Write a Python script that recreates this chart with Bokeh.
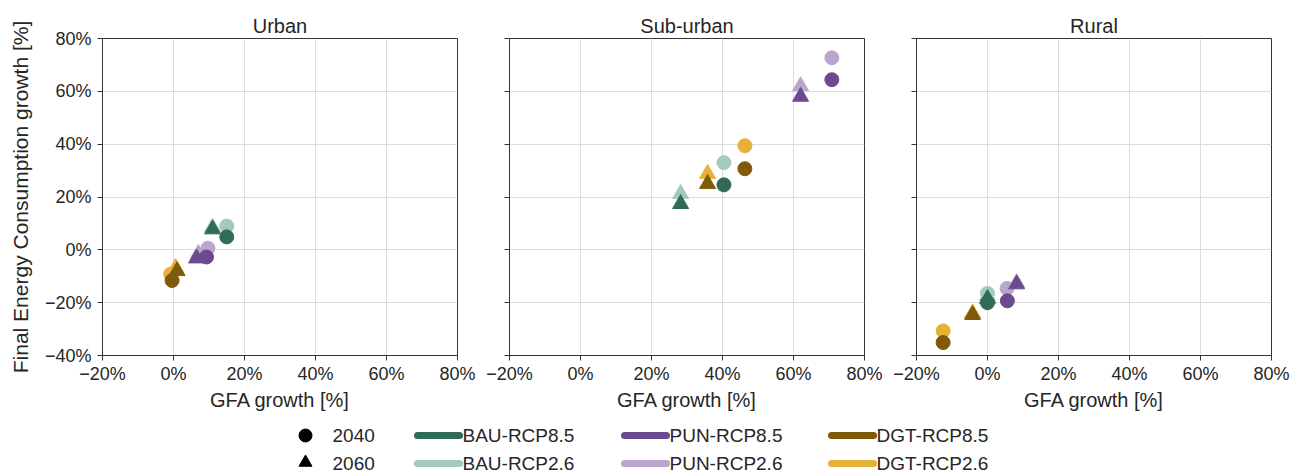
from bokeh.plotting import figure
from bokeh.layouts import column, row
from bokeh.models import (ColumnDataSource, Range1d, FixedTicker,
                          CustomJSTickFormatter)
from bokeh.core.properties import value
from bokeh.embed import file_html
from bokeh.resources import INLINE

# ---------------------------------------------------------------- data
panels = ["Urban", "Sub-urban", "Rural"]
scenarios = ["BAU-RCP8.5", "BAU-RCP2.6", "PUN-RCP8.5",
             "PUN-RCP2.6", "DGT-RCP8.5", "DGT-RCP2.6"]
scenario_colors = ["#2f6b56", "#a4cabb", "#6b4a8d",
                   "#b9a6cf", "#7f5a08", "#e6b139"]
years = ["2040", "2060"]

# GFA growth [%] and final energy consumption growth [%], one value per scenario
urban_gfa_2040 = [15.0, 15.0, 9.3, 9.7, -0.4, -0.8]
urban_fec_2040 = [4.9, 9.0, -2.7, 0.6, -11.6, -9.2]
urban_gfa_2060 = [11.0, 11.0, 6.5, 7.0, 1.0, 0.6]
urban_fec_2060 = [7.8, 8.5, -3.2, -1.5, -8.0, -6.8]

suburban_gfa_2040 = [40.4, 40.4, 70.8, 70.8, 46.3, 46.3]
suburban_fec_2040 = [24.6, 33.0, 64.4, 72.7, 30.7, 39.4]
suburban_gfa_2060 = [28.2, 28.2, 62.0, 62.0, 35.8, 35.8]
suburban_fec_2060 = [17.4, 21.2, 58.0, 62.0, 25.0, 28.8]

rural_gfa_2040 = [0.0, 0.0, 5.6, 5.5, -12.5, -12.5]
rural_fec_2040 = [-20.0, -16.5, -19.3, -14.6, -35.1, -30.7]
rural_gfa_2060 = [0.0, 0.0, 8.2, 8.2, -4.2, -4.2]
rural_fec_2060 = [-18.5, -17.5, -13.0, -12.5, -24.6, -24.0]

x_ticks = [-20, 0, 20, 40, 60, 80]
y_ticks = [-40, -20, 0, 20, 40, 60, 80]

panel_data = {
    "Urban": (urban_gfa_2040, urban_fec_2040, urban_gfa_2060, urban_fec_2060),
    "Sub-urban": (suburban_gfa_2040, suburban_fec_2040,
                  suburban_gfa_2060, suburban_fec_2060),
    "Rural": (rural_gfa_2040, rural_fec_2040, rural_gfa_2060, rural_fec_2060),
}

# ---------------------------------------------------------------- style
FONT = "Liberation Sans"
TEXT = "#262626"
GRID = "#dcdcdc"
SPINE = "#333333"

pct = CustomJSTickFormatter(
    code="return (tick < 0 ? '\\u2212' + (-tick) : '' + tick) + '%';")
blank = CustomJSTickFormatter(code="return '';")

FRAME_W, FRAME_H = 355, 317
TOP, BOTTOM = 38, 62
borders = [(102, 26), (26, 26), (26, 27)]


def make_panel(i, name):
    left, right = borders[i]
    p = figure(width=left + FRAME_W + right, height=TOP + FRAME_H + BOTTOM,
               min_border_left=left, min_border_right=right,
               min_border_top=TOP, min_border_bottom=BOTTOM,
               x_range=Range1d(-20, 80), y_range=Range1d(-40, 80),
               output_backend="svg", toolbar_location=None, title=name)
    p.title.align = "center"
    p.title.text_font = FONT
    p.title.text_font_size = "20px"
    p.title.text_font_style = "normal"
    p.title.text_color = TEXT
    p.title.standoff = 3

    p.outline_line_color = SPINE
    p.outline_line_width = 1
    p.background_fill_color = "white"
    p.border_fill_color = "white"

    for ax in (p.xaxis[0], p.yaxis[0]):
        ax.axis_line_color = SPINE
        ax.major_tick_line_color = SPINE
        ax.major_tick_out = 5
        ax.major_tick_in = 0
        ax.minor_tick_line_color = None
        ax.major_label_text_font = FONT
        ax.major_label_text_font_size = "18px"
        ax.major_label_text_color = TEXT
        ax.axis_label_text_font = FONT
        ax.axis_label_text_font_size = "20px"
        ax.axis_label_text_font_style = "normal"
        ax.axis_label_text_color = TEXT

    p.xaxis.ticker = FixedTicker(ticks=x_ticks)
    p.yaxis.ticker = FixedTicker(ticks=y_ticks)
    p.xaxis.formatter = pct
    p.xaxis.major_label_standoff = 3
    p.xaxis.axis_label = "GFA growth [%]"
    p.xaxis.axis_label_standoff = 2
    if i == 0:
        p.yaxis.formatter = pct
        p.yaxis.major_label_standoff = 6
        p.yaxis.axis_label = "Final Energy Consumption growth [%]"
        p.yaxis.axis_label_text_font_size = "21px"
        p.yaxis.axis_label_standoff = 10
    else:
        p.yaxis.formatter = blank
        p.yaxis.major_label_standoff = 0

    p.grid.grid_line_color = GRID
    p.grid.grid_line_width = 1

    gx40, fy40, gx60, fy60 = panel_data[name]
    # lighter RCP2.6 markers underneath, RCP8.5 on top
    order = [1, 3, 5, 0, 2, 4]
    for k in order:
        src60 = ColumnDataSource(dict(x=[gx60[k]], y=[fy60[k]]))
        p.scatter("x", "y", source=src60, marker="triangle", size=16,
                  fill_color=scenario_colors[k], line_color=scenario_colors[k],
                  line_width=1)
        src40 = ColumnDataSource(dict(x=[gx40[k]], y=[fy40[k]]))
        p.scatter("x", "y", source=src40, marker="circle", size=14,
                  fill_color=scenario_colors[k], line_color=scenario_colors[k],
                  line_width=1)
    return p


figs = [make_panel(i, n) for i, n in enumerate(panels)]

# ---------------------------------------------------------------- legend
LEG_W, LEG_H = 1298, 58
leg = figure(width=LEG_W, height=LEG_H, x_range=Range1d(0, LEG_W),
             y_range=Range1d(0, LEG_H), min_border=0,
             output_backend="svg", toolbar_location=None)
leg.axis.visible = False
leg.grid.visible = False
leg.outline_line_color = None

row_y = [40, 12]
marker_x, marker_label_x = 305, 332
leg.scatter([marker_x], [row_y[0]], marker="circle", size=13, color="black")
leg.scatter([marker_x], [row_y[1] + 1], marker="triangle", size=13,
            color="black")
leg.text([marker_label_x] * 2, row_y, text=years, text_font=value(FONT),
         text_font_size="19px", text_baseline="middle", text_color=TEXT)

line_starts = [417, 624, 831]
line_len = 42
for g in range(3):
    for r in range(2):
        k = 2 * g + r
        x0 = line_starts[g]
        leg.segment(x0=[x0], y0=[row_y[r]], x1=[x0 + line_len], y1=[row_y[r]],
                    line_width=7, line_cap="round", color=scenario_colors[k])
        leg.text([x0 + line_len + 3], [row_y[r]], text=[scenarios[k]],
                 text_font=value(FONT), text_font_size="19px",
                 text_baseline="middle", text_color=TEXT)

layout = column(row(*figs, spacing=0), leg, spacing=0)

open("out.html", "w").write(file_html(layout, INLINE))
